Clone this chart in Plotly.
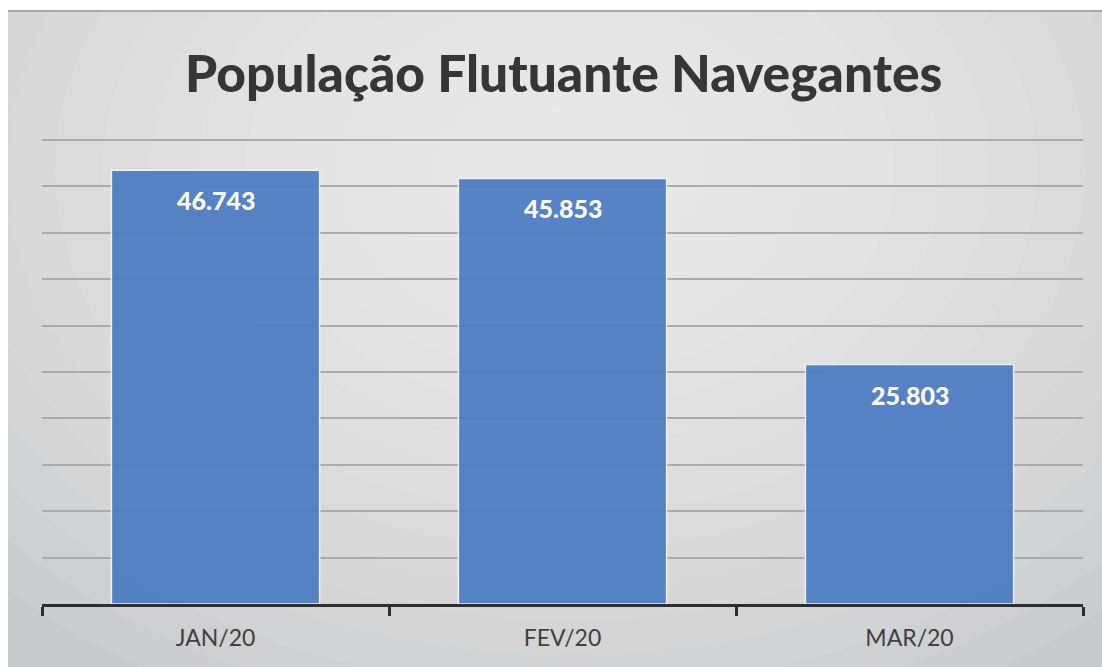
import plotly.graph_objects as go

categories = ["JAN/20", "FEV/20", "MAR/20"]
values = [46743, 45853, 25803]
value_labels = ["46.743", "45.853", "25.803"]
title_text = "População Flutuante Navegantes"
grid_values = [5000 * k for k in range(1, 11)]

W, H = 1102, 667
L, R, T, B = 42, 19, 130, 63
pw, ph = W - L - R, H - T - B

def px_x(x):
    return (x - L) / pw

def px_y(y):
    return (H - B - y) / ph

fig = go.Figure()
fig.add_trace(go.Bar(
    x=categories, y=values,
    marker=dict(color="#4b7cc3", line=dict(color="#eef2fa", width=1.5)),
    opacity=0.93,
    width=0.6,
    hoverinfo="skip",
))

shapes = []
shapes.append(dict(type="rect", xref="paper", yref="paper", layer="below",
                   x0=px_x(8), x1=px_x(W + 5), y0=px_y(H + 5), y1=px_y(10),
                   fillcolor="#c9cacb", line=dict(width=0)))
n = 16
for i in range(n):
    f = 1 - i / n
    cx, cy = 570, 170
    rx, ry = 760 * f + 40, 560 * f + 30
    shapes.append(dict(type="circle", xref="paper", yref="paper", layer="below",
                       x0=px_x(cx - rx), x1=px_x(cx + rx),
                       y0=px_y(cy + ry), y1=px_y(cy - ry),
                       fillcolor="white", opacity=0.068, line=dict(width=0)))
shapes.append(dict(type="rect", xref="paper", yref="paper", layer="below",
                   x0=px_x(-60), x1=px_x(8), y0=px_y(H + 60), y1=px_y(-60),
                   fillcolor="white", line=dict(width=0)))
shapes.append(dict(type="rect", xref="paper", yref="paper", layer="below",
                   x0=px_x(-60), x1=px_x(W + 60), y0=px_y(10), y1=px_y(-60),
                   fillcolor="white", line=dict(width=0)))
shapes.append(dict(type="line", xref="paper", yref="paper", layer="below",
                   x0=px_x(8), x1=px_x(W), y0=px_y(11), y1=px_y(11),
                   line=dict(color="#a8a8a8", width=2)))

annotations = []
for c, v, t in zip(categories, values, value_labels):
    annotations.append(dict(x=c, y=v, xref="x", yref="y", text=t, showarrow=False,
                            yanchor="top", yshift=-13,
                            font=dict(family="Lato", size=25, color="white", weight=900)))
annotations.append(dict(x=px_x(563), y=px_y(72), xref="paper", yref="paper",
                        text=title_text, showarrow=False,
                        xanchor="center", yanchor="middle",
                        font=dict(family="Lato", size=51.5, color="#363636", weight=900)))

fig.update_layout(
    width=W, height=H,
    margin=dict(l=L, r=R, t=T, b=B, pad=0),
    paper_bgcolor="white",
    plot_bgcolor="rgba(0,0,0,0)",
    showlegend=False,
    shapes=shapes,
    annotations=annotations,
)
fig.update_xaxes(
    type="category",
    showgrid=False,
    showline=True, linecolor="#2e2e2e", linewidth=3,
    ticks="outside", tickson="boundaries", ticklen=9, tickwidth=3, tickcolor="#2e2e2e",
    tickfont=dict(family="Lato", size=23, color="#404040"),
    ticklabelstandoff=11,
)
fig.update_yaxes(
    range=[0, 51078], tickvals=grid_values,
    showgrid=True, gridcolor="#ababab", gridwidth=1.5,
    showticklabels=False, zeroline=False, showline=False,
)

fig.write_html("out.html", config={"displayModeBar": False},
               post_script="document.body.style.margin='0';document.body.style.padding='0';")
